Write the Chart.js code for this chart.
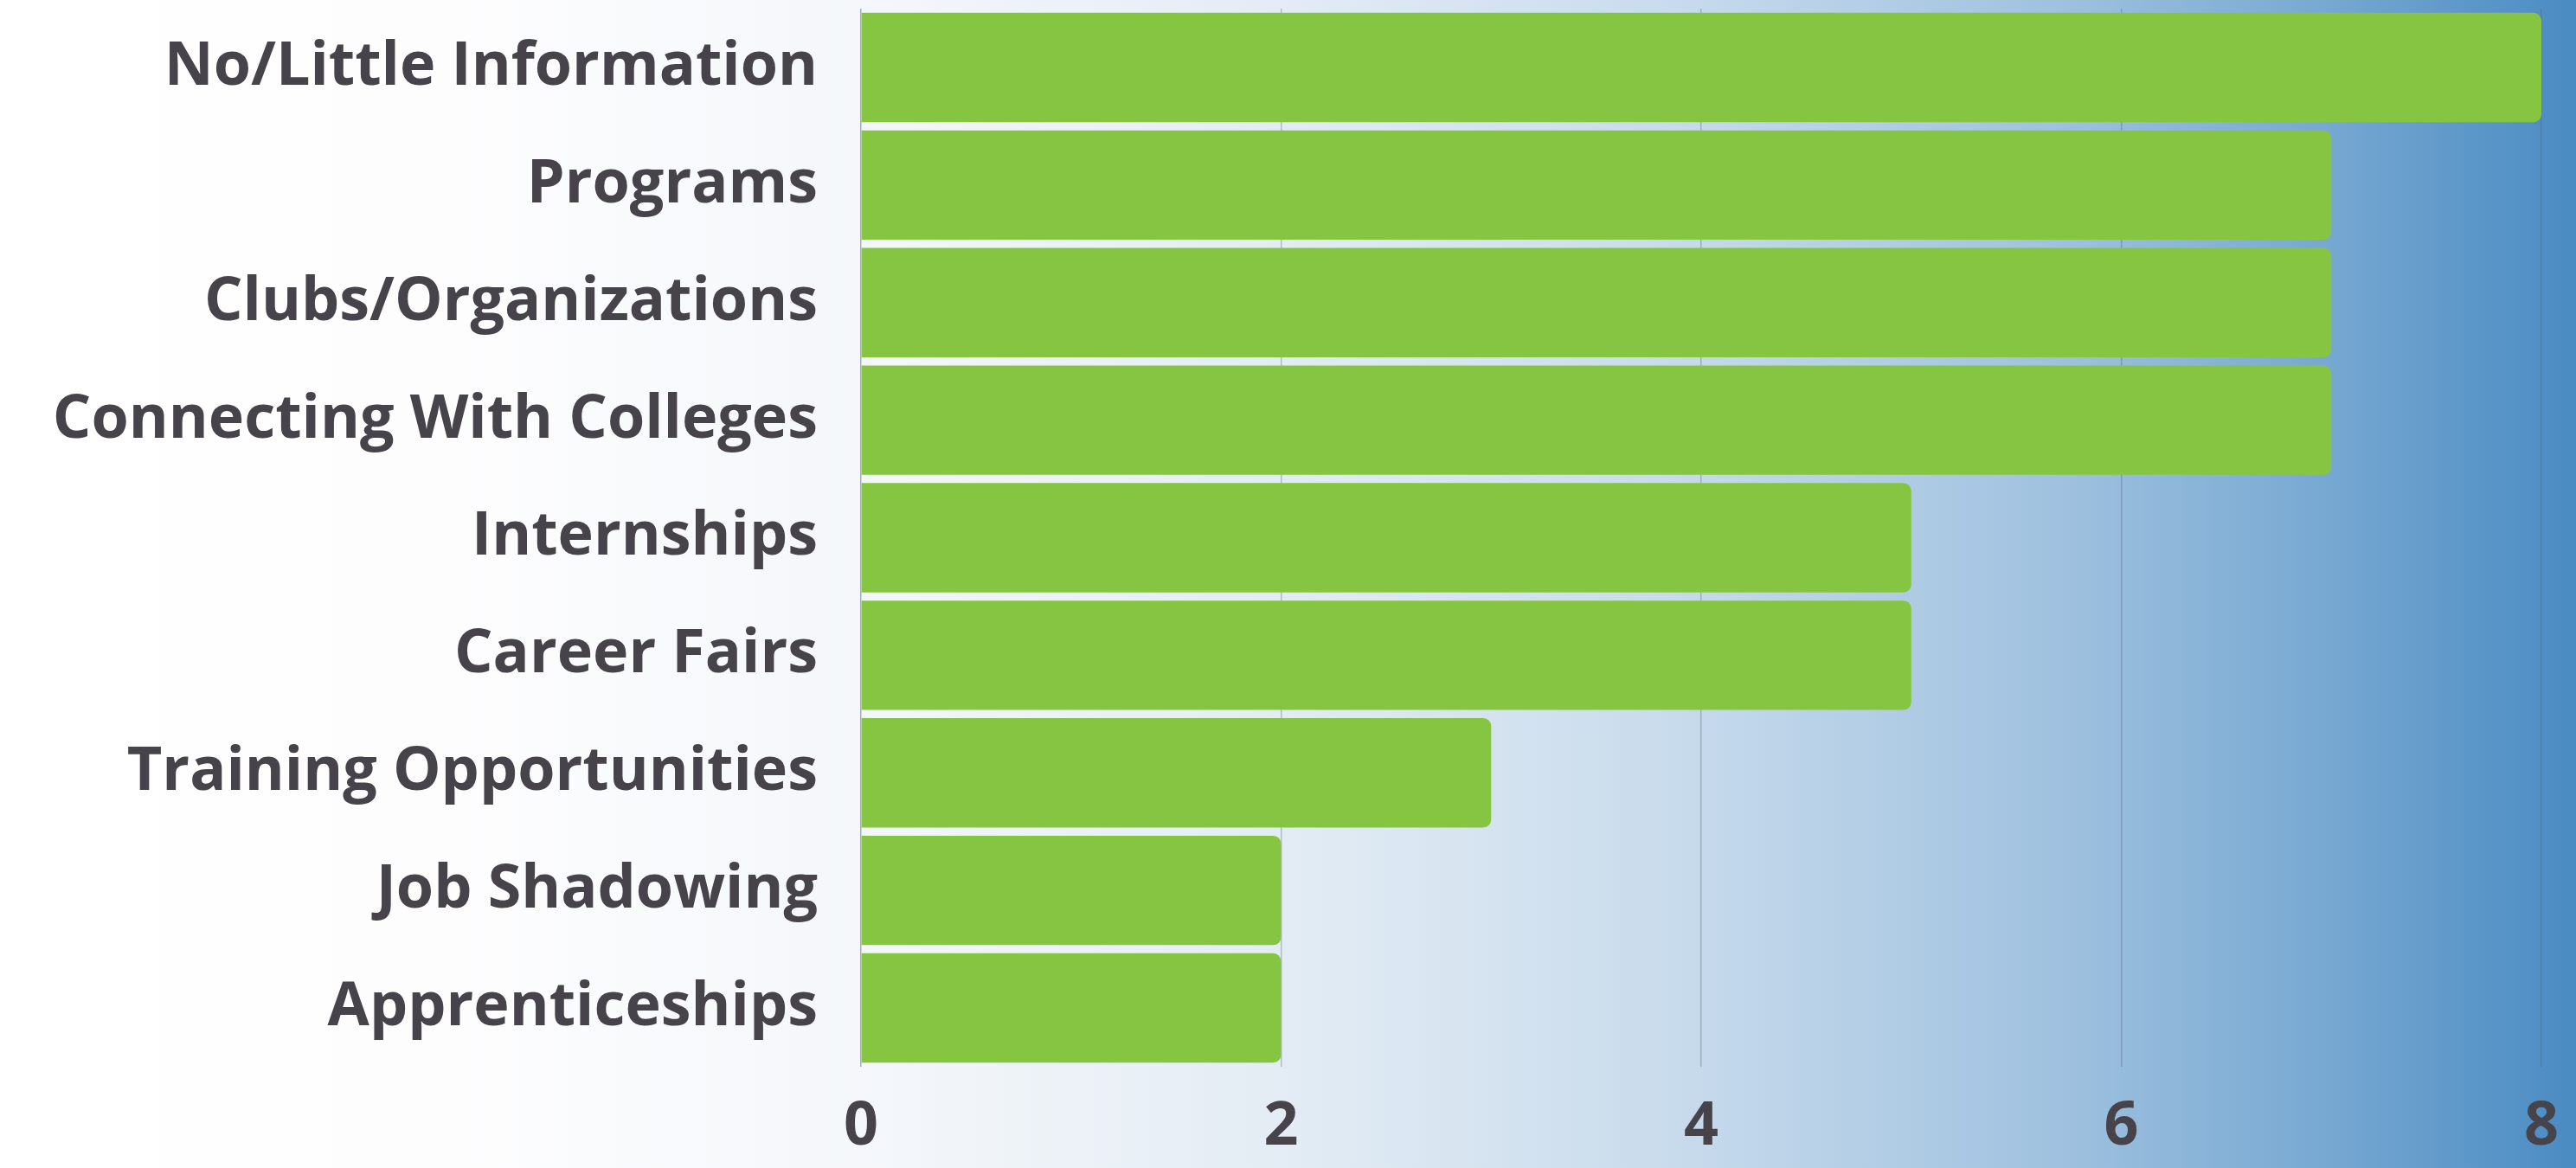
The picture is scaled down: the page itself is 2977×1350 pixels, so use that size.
<!DOCTYPE html>
<html>
<head>
<meta charset="utf-8">
<script src="https://cdn.jsdelivr.net/npm/chart.js@4"></script>
<style>
    html, body { margin: 0; padding: 0; background: #ffffff; }
    #wrap { width: 2977px; height: 1350px; position: relative; }
</style>
</head>
<body>
<div id="wrap"><canvas id="BarrierChart"></canvas></div>
<script>
const categories = [
    "No/Little Information",
    "Programs",
    "Clubs/Organizations",
    "Connecting With Colleges",
    "Internships",
    "Career Fairs",
    "Training Opportunities",
    "Job Shadowing",
    "Apprenticeships",
];
const responses = [8, 7, 7, 7, 5, 5, 3, 2, 2];
const xTicks = [0, 2, 4, 6, 8];

const textColor = "#47434a";
const barColor = "rgb(134,197,66)";
const labelFont = { family: "'Open Sans'", size: 70, weight: "bold" };

// white-to-blue wash behind the whole chart
const backgroundWash = {
    id: "backgroundWash",
    beforeDraw(chart) {
        const { ctx, width, height } = chart;
        const grad = ctx.createLinearGradient(0, 0, width, 0);
        grad.addColorStop(0, "#ffffff");
        grad.addColorStop(0.18, "#fdfdfe");
        grad.addColorStop(0.35, "#f3f6fa");
        grad.addColorStop(0.5, "#e3ecf4");
        grad.addColorStop(0.65, "#c8dbec");
        grad.addColorStop(0.8, "#9fc1df");
        grad.addColorStop(0.9, "#78a9d2");
        grad.addColorStop(1, "#4a8bc3");
        ctx.save();
        ctx.fillStyle = grad;
        ctx.fillRect(0, 0, width, height);
        ctx.restore();
    },
};

function BarrierChart() {
    const ctx = document.getElementById("BarrierChart");

    new Chart(ctx, {
        type: "bar",
        data: {
            labels: categories,
            datasets: [
                {
                    data: responses,
                    backgroundColor: barColor,
                    borderWidth: 0,
                    borderRadius: 9,
                    barPercentage: 0.93,
                    categoryPercentage: 1,
                },
            ],
        },
        options: {
            indexAxis: "y",
            responsive: true,
            maintainAspectRatio: false,
            animation: false,
            layout: {
                padding: { top: 10, right: 40, left: 0, bottom: 0 },
            },
            scales: {
                x: {
                    min: 0,
                    max: 8,
                    afterBuildTicks: (scale) => {
                        scale.ticks = xTicks.map((v) => ({ value: v }));
                    },
                    afterFit: (scale) => {
                        scale.height = 117;
                        scale.paddingRight = 0;
                    },
                    ticks: {
                        color: textColor,
                        padding: 28,
                        maxRotation: 0,
                        font: labelFont,
                    },
                    grid: {
                        drawTicks: false,
                        lineWidth: 1.5,
                        color: (c) => c.tick && c.tick.value === 0
                            ? "rgba(150,155,165,0.8)"
                            : "rgba(80,95,120,0.35)",
                    },
                    border: { display: false },
                },
                y: {
                    afterFit: (scale) => {
                        scale.width = 995;
                        scale.paddingTop = 0;
                        scale.paddingBottom = 0;
                    },
                    ticks: {
                        color: textColor,
                        padding: 50,
                        font: labelFont,
                    },
                    grid: {
                        display: false,
                        drawTicks: false,
                    },
                    border: { display: false },
                },
            },
            plugins: {
                legend: { display: false },
                tooltip: { enabled: false },
            },
        },
        plugins: [backgroundWash],
    });
}

BarrierChart()
</script>
</body>
</html>
